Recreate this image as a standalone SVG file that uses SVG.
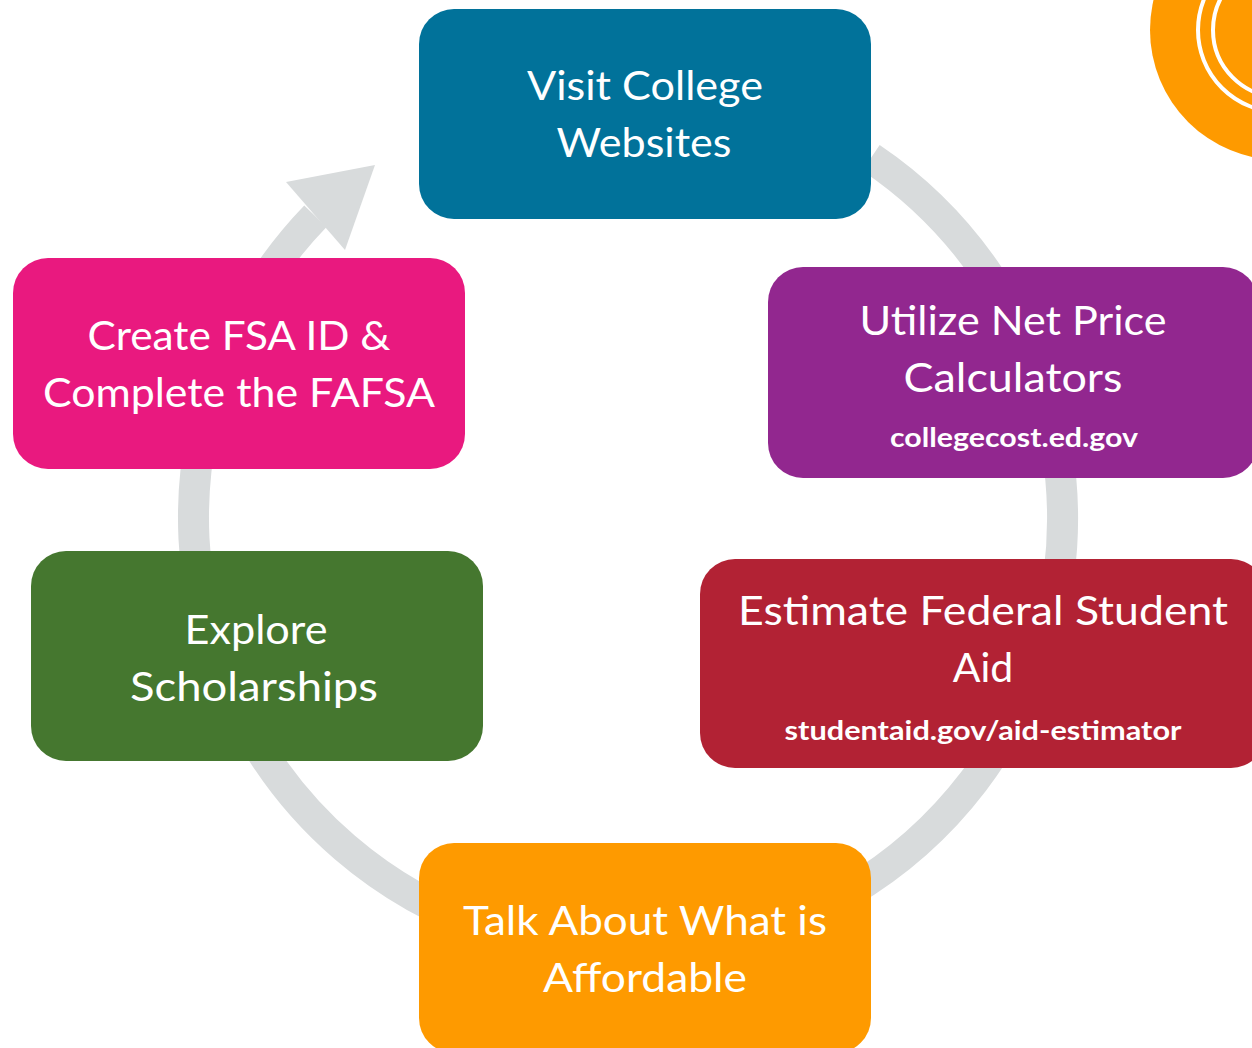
<svg xmlns="http://www.w3.org/2000/svg" width="1252" height="1048" viewBox="0 0 1252 1048">
<style>
.t{font-family:Lato,"Open Sans","Liberation Sans",sans-serif;font-size:41px;fill:#fff;text-anchor:middle}
.u{font-family:Lato,"Open Sans","Liberation Sans",sans-serif;font-size:26px;font-weight:bold;fill:#fff;text-anchor:middle}
.ring{fill:none;stroke:#d8dbdc;stroke-width:31}
</style>
<rect width="1252" height="1048" fill="#fff"/>
<g id="deco">
<circle cx="1280" cy="30" r="130" fill="#fe9a00"/>
<circle cx="1280" cy="30" r="82" fill="none" stroke="#fff" stroke-width="4"/>
<circle cx="1280" cy="30" r="67" fill="none" stroke="#fff" stroke-width="4"/>
</g>
<g id="connectors">
<path class="ring" d="M 871 157.8 A 434.5 434.5 0 1 1 315.4 216.2"/>
<polygon points="375,165 286,182 345,250" fill="#d8dbdc"/>
</g>
<g id="n1">
<rect x="419" y="9" width="452" height="210" rx="35" fill="#01729a"/>
<text class="t" x="645" y="100" textLength="236" lengthAdjust="spacingAndGlyphs">Visit College</text>
<text class="t" x="644" y="157" textLength="175" lengthAdjust="spacingAndGlyphs">Websites</text>
</g>
<g id="n2">
<rect x="768" y="267" width="490" height="211" rx="35" fill="#92278f"/>
<text class="t" x="1013" y="335" textLength="307" lengthAdjust="spacingAndGlyphs">Utilize Net Price</text>
<text class="t" x="1013" y="392" textLength="219" lengthAdjust="spacingAndGlyphs">Calculators</text>
<text class="u" x="1014" y="447" textLength="248" lengthAdjust="spacingAndGlyphs">collegecost.ed.gov</text>
</g>
<g id="n3">
<rect x="700" y="559" width="566" height="209" rx="35" fill="#b22234"/>
<text class="t" x="983" y="625" textLength="490" lengthAdjust="spacingAndGlyphs">Estimate Federal Student</text>
<text class="t" x="983" y="682">Aid</text>
<text class="u" x="983" y="740" textLength="397" lengthAdjust="spacingAndGlyphs">studentaid.gov/aid-estimator</text>
</g>
<g id="n4">
<rect x="419" y="843" width="452" height="210" rx="35" fill="#fe9a00"/>
<text class="t" x="645" y="935" textLength="364" lengthAdjust="spacingAndGlyphs">Talk About What is</text>
<text class="t" x="645" y="992" textLength="204" lengthAdjust="spacingAndGlyphs">Affordable</text>
</g>
<g id="n5">
<rect x="31" y="551" width="452" height="210" rx="35" fill="#45772f"/>
<text class="t" x="256" y="644" textLength="143" lengthAdjust="spacingAndGlyphs">Explore</text>
<text class="t" x="254" y="701" textLength="248" lengthAdjust="spacingAndGlyphs">Scholarships</text>
</g>
<g id="n6">
<rect x="13" y="258" width="452" height="211" rx="35" fill="#e9197f"/>
<text class="t" x="239" y="350" textLength="303" lengthAdjust="spacingAndGlyphs">Create FSA ID &amp;</text>
<text class="t" x="239" y="407" textLength="392" lengthAdjust="spacingAndGlyphs">Complete the FAFSA</text>
</g>
</svg>
